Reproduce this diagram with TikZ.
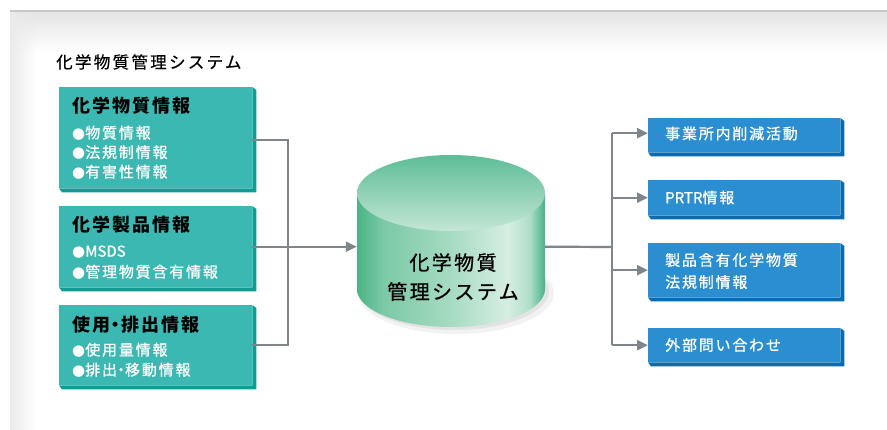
\documentclass[tikz,border=0pt]{standalone}
\usepackage{fontspec}
\setmainfont{Noto Sans CJK JP}[LetterSpace=12]
\newfontfamily\jpmed{Noto Sans CJK JP}[LetterSpace=12, FakeBold=0.9]
\newfontfamily\jplat{Noto Sans CJK JP}[FakeBold=0.9]
\newfontfamily\jptitle{Noto Sans CJK JP}[LetterSpace=14, FakeBold=0.5]
\newfontfamily\dvfont{DejaVu Sans}
\usetikzlibrary{arrows.meta,fadings}
\definecolor{tealF}{HTML}{3CB8B2}
\definecolor{tealS}{HTML}{0F9C94}
\definecolor{blueF}{HTML}{2A8ED1}
\definecolor{blueS}{HTML}{0A6CAF}
\definecolor{lineC}{HTML}{7F868B}
\definecolor{cA}{HTML}{4AB486}
\definecolor{cB}{HTML}{7CC9A6}
\definecolor{cC}{HTML}{A6DBC2}
\definecolor{cD}{HTML}{D6EEE2}
\definecolor{cE}{HTML}{AEDEC8}
\definecolor{cF}{HTML}{45B285}
\definecolor{topA}{HTML}{5EBD96}
\definecolor{topB}{HTML}{C3E6D5}
\pgfdeclarehorizontalshading{cylbody}{100bp}{color(0bp)=(cA); color(25bp)=(cA); color(32bp)=(cB); color(50bp)=(cC); color(65bp)=(cD); color(71bp)=(cE); color(75bp)=(cF); color(100bp)=(cF)}
\newcommand\bul{{\dvfont ●}}
\newcommand\ndot{\kern-3.5pt・\kern-3.5pt}
\newcommand\sidestrip[2]{\fill[#2] (#1.north east) -- ++(4,3) -- ([xshift=4pt,yshift=-4pt]#1.south east) -- ([xshift=3pt,yshift=-4pt]#1.south west) -- (#1.south west) -- (#1.south east) -- cycle;}
\begin{document}
\begin{tikzpicture}[x=1pt,y=-1pt,
  lbox/.style={inner sep=0, minimum width=193pt, anchor=north west, fill=tealF},
  rbox/.style={inner sep=0, minimum width=192pt, anchor=north west, fill=blueF},
  ltitle/.style={anchor=west, inner sep=0, font=\fontsize{18}{20}\selectfont\bfseries},
  litem/.style={anchor=west, inner sep=0, text=white, font=\fontsize{15}{17}\selectfont\jpmed},
  rtext/.style={anchor=west, inner sep=0, text=white, align=left, font=\fontsize{15}{22}\selectfont\jpmed},
  conn/.style={draw=lineC, line width=2.2pt},
  arr/.style={conn, -{Triangle[length=11pt,width=10pt]}}]
\useasboundingbox (0,0) rectangle (887,430);
% background panel
\fill[white] (0,0) rectangle (887,430);
\fill[black!10, path fading=south] (10,12) rectangle (887,52);
\fill[black!8, path fading=east] (10,12) rectangle (36,430);
\draw[black!22, line width=2pt] (10,11) -- (887,11);
% title
\node[anchor=west, inner sep=0, font=\fontsize{16.5}{18}\selectfont\jptitle] (title) at (56,62) {化学物質管理システム};
% left boxes
\node[lbox, minimum height=101pt] (b1) at (59,87) {};
\node[lbox, minimum height=81pt] (b2) at (59,206) {};
\node[lbox, minimum height=80pt] (b3) at (59,305) {};
\sidestrip{b1}{tealS}
\sidestrip{b2}{tealS}
\sidestrip{b3}{tealS}
\node[ltitle] (t1) at (72,106) {化学物質情報};
\node[litem] (i1a) at (72,133) {\bul 物質情報};
\node[litem] (i1b) at (72,152.5) {\bul 法規制情報};
\node[litem] (i1c) at (72,172) {\bul 有害性情報};
\node[ltitle] (t2) at (72,225) {化学製品情報};
\node[litem] (i2a) at (72,252) {\bul{\jplat MSDS}};
\node[litem] (i2b) at (72,272) {\bul 管理物質含有情報};
\node[ltitle] (t3) at (72,325) {使用\ndot 排出情報};
\node[litem] (i3a) at (72,350) {\bul 使用量情報};
\node[litem] (i3b) at (72,370) {\bul 排出\ndot 移動情報};
% cylinder
\fill[black, opacity=0.05] (456,293) ellipse [x radius=98, y radius=41];
\fill[black, opacity=0.06] (454,291) ellipse [x radius=95, y radius=39];
\shade[shading=cylbody] (357,193) -- (357,289) arc[start angle=180, end angle=0, x radius=94, y radius=38] -- (545,193) -- cycle;
\shade[top color=topA, bottom color=topB] (451,193) ellipse [x radius=94, y radius=38];
\node[inner sep=0, minimum width=188pt, minimum height=172pt] (cyl) at (451,241) {};
\node[align=center, inner sep=0, font=\fontsize{20}{29}\selectfont\jpmed] (cyltext) at (453,277) {化学物質\\管理システム};
% left connectors
\coordinate (jl) at (288,247);
\draw[conn] ([yshift=-2.5pt]b1.east) -| (jl |- b3.east) -- (b3.east);
\draw[arr] (b2.east) -- (b2.east -| cyl.west);
% right boxes
\node[rbox, minimum height=34pt] (r1) at (648,118) {};
\node[rbox, minimum height=35pt] (r2) at (648,180) {};
\node[rbox, minimum height=54pt] (r3) at (648,243) {};
\node[rbox, minimum height=34pt] (r4) at (648,328) {};
\sidestrip{r1}{blueS}
\sidestrip{r2}{blueS}
\sidestrip{r3}{blueS}
\sidestrip{r4}{blueS}
\node[rtext] (s1) at (665,133.5) {事業所内削減活動};
\node[rtext] (s2) at (665,197.5) {{\jplat PRTR}情報};
\node[rtext] (s3) at (665,271) {製品含有化学物質\\法規制情報};
\node[rtext] (s4) at (665,345) {外部問い合わせ};
% right connectors
\coordinate (jr) at (612,247);
\draw[conn] (b2.east -| cyl.east) -- (jr);
\draw[conn] ([yshift=2pt]jr |- r1.west) -- (jr |- r4.west);
\draw[arr] ([yshift=2pt]jr |- r1.west) -- ([yshift=2pt]r1.west);
\draw[arr] (jr |- r2.west) -- (r2.west);
\draw[arr] (jr |- r3.west) -- (r3.west);
\draw[arr] (jr |- r4.west) -- (r4.west);
\end{tikzpicture}
\end{document}
